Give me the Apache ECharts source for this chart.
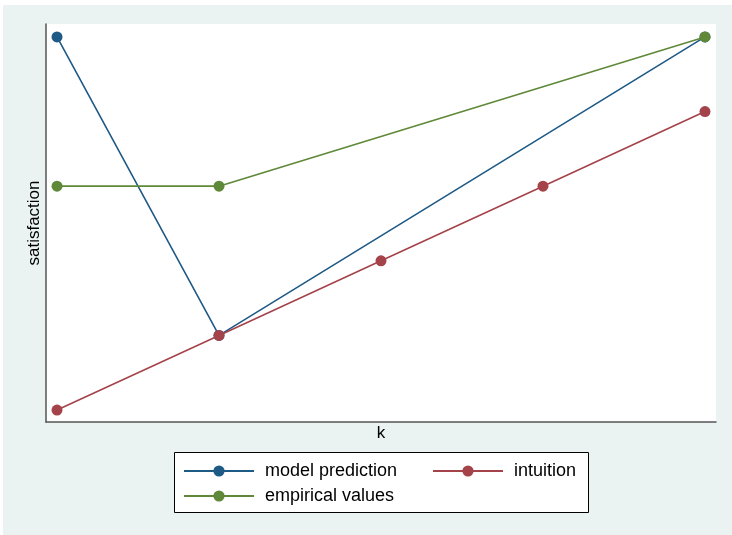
<!DOCTYPE html>
<html>
<head>
<meta charset="utf-8">
<script src="https://cdn.jsdelivr.net/npm/echarts@6/dist/echarts.min.js"></script>
<style>html,body{margin:0;padding:0;background:#fff}#c{width:732px;height:535px}</style>
</head>
<body>
<div id="c"></div>
<script>
var kValues = [1, 2, 3, 4, 5];
var modelPrediction = [5, 1, null, null, 5];
var intuition = [0, 1, 2, 3, 4];
var empiricalValues = [3, 3, null, null, 5];
var seriesNames = ['model prediction', 'intuition', 'empirical values'];
var colors = ['#1e5a86', '#a5434a', '#5f8838'];

function pairs(vals) { return kValues.map(function (k, i) { return [k, vals[i]]; }); }

var chart = echarts.init(document.getElementById('c'), null, { renderer: 'canvas' });
var font = '"Liberation Sans", Arial, Helvetica, sans-serif';
function mkSeries(name, vals, color) {
  return {
    name: name, type: 'line', data: pairs(vals), connectNulls: true,
    symbol: 'circle', symbolSize: 11, showSymbol: true,
    lineStyle: { color: color, width: 1.6 },
    itemStyle: { color: color },
    emphasis: { disabled: true }, animation: false
  };
}
function mkLegend(name, left, top) {
  return {
    data: [name], left: left, top: top, orient: 'horizontal',
    itemWidth: 70, itemHeight: 14, padding: 0, selectedMode: false,
    textStyle: { fontFamily: font, fontSize: 18, color: '#000', padding: [0, 0, 0, 6] }
  };
}
chart.setOption({
  backgroundColor: '#ffffff',
  animation: false,
  graphic: [
    { type: 'rect', z: -10, shape: { x: 3, y: 5, width: 729, height: 530 }, style: { fill: '#eaf3f2' } },
    { type: 'rect', z: -5, shape: { x: 174.5, y: 452.5, width: 414, height: 60 }, style: { fill: '#ffffff', stroke: '#000', lineWidth: 1 } }
  ],
  grid: { left: 46, top: 24, right: 16, bottom: 113, show: true, backgroundColor: '#ffffff', borderWidth: 0 },
  xAxis: {
    type: 'value', min: 0.932, max: 5.068,
    name: 'k', nameLocation: 'middle', nameGap: 3,
    nameTextStyle: { fontFamily: font, fontSize: 17, color: '#000', verticalAlign: 'top' },
    axisLine: { show: true, onZero: false, lineStyle: { color: '#555', width: 1.5 } },
    axisTick: { show: false }, axisLabel: { show: false }, splitLine: { show: false }
  },
  yAxis: {
    type: 'value', min: -0.16, max: 5.173,
    name: 'satisfaction', nameLocation: 'middle', nameGap: 3,
    nameTextStyle: { fontFamily: font, fontSize: 17, color: '#000' },
    axisLine: { show: true, onZero: false, lineStyle: { color: '#555', width: 1.5 } },
    axisTick: { show: false }, axisLabel: { show: false }, splitLine: { show: false }
  },
  legend: [
    mkLegend(seriesNames[0], 183, 462),
    mkLegend(seriesNames[1], 432, 462),
    mkLegend(seriesNames[2], 183, 487)
  ],
  series: [
    mkSeries(seriesNames[0], modelPrediction, colors[0]),
    mkSeries(seriesNames[1], intuition, colors[1]),
    mkSeries(seriesNames[2], empiricalValues, colors[2])
  ]
});
</script>
</body>
</html>
